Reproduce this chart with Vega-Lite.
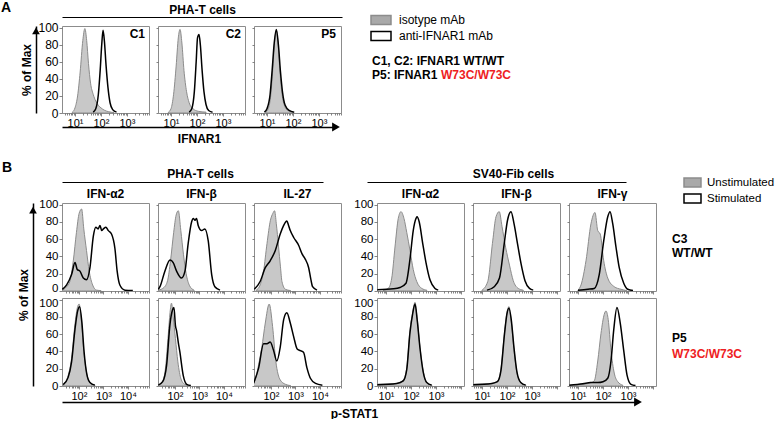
{
"$schema":"https://vega.github.io/schema/vega-lite/v6.json",
"padding":0,
"background":"white",
"columns":9,
"spacing":{"row":7,"column":9},
"bounds":"flush",
"align":"each",
"resolve":{"scale":{"fill":"independent","stroke":"independent"}},
"datasets":{
"blank":[{}],
"h":[
{"p":"A1","s":"isotype mAb","x":7.94,"y":1},{"p":"A1","s":"isotype mAb","x":10,"y":6},{"p":"A1","s":"isotype mAb","x":12.6,"y":20},{"p":"A1","s":"isotype mAb","x":15.8,"y":48},{"p":"A1","s":"isotype mAb","x":20,"y":85},{"p":"A1","s":"isotype mAb","x":24,"y":99},{"p":"A1","s":"isotype mAb","x":28.2,"y":85},{"p":"A1","s":"isotype mAb","x":33.1,"y":58},{"p":"A1","s":"isotype mAb","x":39.8,"y":35},{"p":"A1","s":"isotype mAb","x":50.1,"y":22},{"p":"A1","s":"isotype mAb","x":63.1,"y":14},{"p":"A1","s":"isotype mAb","x":79.4,"y":9},{"p":"A1","s":"isotype mAb","x":100,"y":6},{"p":"A1","s":"isotype mAb","x":141,"y":3},{"p":"A1","s":"isotype mAb","x":200,"y":1.5},{"p":"A1","s":"isotype mAb","x":316,"y":0.5},
{"p":"A1","s":"anti-IFNAR1 mAb","x":50.1,"y":1},{"p":"A1","s":"anti-IFNAR1 mAb","x":63.1,"y":5},{"p":"A1","s":"anti-IFNAR1 mAb","x":79.4,"y":22},{"p":"A1","s":"anti-IFNAR1 mAb","x":93.3,"y":50},{"p":"A1","s":"anti-IFNAR1 mAb","x":107,"y":80},{"p":"A1","s":"anti-IFNAR1 mAb","x":120,"y":97},{"p":"A1","s":"anti-IFNAR1 mAb","x":135,"y":85},{"p":"A1","s":"anti-IFNAR1 mAb","x":158,"y":55},{"p":"A1","s":"anti-IFNAR1 mAb","x":186,"y":30},{"p":"A1","s":"anti-IFNAR1 mAb","x":224,"y":12},{"p":"A1","s":"anti-IFNAR1 mAb","x":282,"y":4},{"p":"A1","s":"anti-IFNAR1 mAb","x":398,"y":1},
{"p":"A2","s":"isotype mAb","x":7.94,"y":1},{"p":"A2","s":"isotype mAb","x":10,"y":5},{"p":"A2","s":"isotype mAb","x":12.6,"y":22},{"p":"A2","s":"isotype mAb","x":15.8,"y":55},{"p":"A2","s":"isotype mAb","x":19.1,"y":88},{"p":"A2","s":"isotype mAb","x":22.3,"y":98},{"p":"A2","s":"isotype mAb","x":26.3,"y":82},{"p":"A2","s":"isotype mAb","x":31.6,"y":50},{"p":"A2","s":"isotype mAb","x":39.8,"y":25},{"p":"A2","s":"isotype mAb","x":50.1,"y":12},{"p":"A2","s":"isotype mAb","x":70.7,"y":5},{"p":"A2","s":"isotype mAb","x":112,"y":2},{"p":"A2","s":"isotype mAb","x":223,"y":1},
{"p":"A2","s":"anti-IFNAR1 mAb","x":50.1,"y":1},{"p":"A2","s":"anti-IFNAR1 mAb","x":63.1,"y":5},{"p":"A2","s":"anti-IFNAR1 mAb","x":79.3,"y":25},{"p":"A2","s":"anti-IFNAR1 mAb","x":93.3,"y":60},{"p":"A2","s":"anti-IFNAR1 mAb","x":105,"y":88},{"p":"A2","s":"anti-IFNAR1 mAb","x":120,"y":92},{"p":"A2","s":"anti-IFNAR1 mAb","x":135,"y":80},{"p":"A2","s":"anti-IFNAR1 mAb","x":158,"y":50},{"p":"A2","s":"anti-IFNAR1 mAb","x":186,"y":25},{"p":"A2","s":"anti-IFNAR1 mAb","x":223,"y":10},{"p":"A2","s":"anti-IFNAR1 mAb","x":282,"y":3},{"p":"A2","s":"anti-IFNAR1 mAb","x":398,"y":1},
{"p":"A3","s":"isotype mAb","x":8.91,"y":1},{"p":"A3","s":"isotype mAb","x":11.2,"y":5},{"p":"A3","s":"isotype mAb","x":14.1,"y":22},{"p":"A3","s":"isotype mAb","x":16.6,"y":50},{"p":"A3","s":"isotype mAb","x":19.5,"y":82},{"p":"A3","s":"isotype mAb","x":22.9,"y":97},{"p":"A3","s":"isotype mAb","x":26.9,"y":80},{"p":"A3","s":"isotype mAb","x":31.6,"y":48},{"p":"A3","s":"isotype mAb","x":38,"y":22},{"p":"A3","s":"isotype mAb","x":47.9,"y":8},{"p":"A3","s":"isotype mAb","x":63.1,"y":3},{"p":"A3","s":"isotype mAb","x":100,"y":1},
{"p":"A3","s":"anti-IFNAR1 mAb","x":7.94,"y":1},{"p":"A3","s":"anti-IFNAR1 mAb","x":10,"y":5},{"p":"A3","s":"anti-IFNAR1 mAb","x":13.2,"y":22},{"p":"A3","s":"anti-IFNAR1 mAb","x":15.8,"y":50},{"p":"A3","s":"anti-IFNAR1 mAb","x":19.1,"y":83},{"p":"A3","s":"anti-IFNAR1 mAb","x":22.9,"y":98},{"p":"A3","s":"anti-IFNAR1 mAb","x":27.5,"y":80},{"p":"A3","s":"anti-IFNAR1 mAb","x":33.1,"y":48},{"p":"A3","s":"anti-IFNAR1 mAb","x":39.8,"y":24},{"p":"A3","s":"anti-IFNAR1 mAb","x":50.1,"y":9},{"p":"A3","s":"anti-IFNAR1 mAb","x":70.8,"y":3},{"p":"A3","s":"anti-IFNAR1 mAb","x":112,"y":1},
{"p":"B11","s":"Unstimulated","x":21,"y":1},{"p":"B11","s":"Unstimulated","x":31.6,"y":5},{"p":"B11","s":"Unstimulated","x":42.7,"y":11},{"p":"B11","s":"Unstimulated","x":58.9,"y":35},{"p":"B11","s":"Unstimulated","x":79.4,"y":68},{"p":"B11","s":"Unstimulated","x":102,"y":90},{"p":"B11","s":"Unstimulated","x":129,"y":95},{"p":"B11","s":"Unstimulated","x":158,"y":72},{"p":"B11","s":"Unstimulated","x":204,"y":47},{"p":"B11","s":"Unstimulated","x":263,"y":23},{"p":"B11","s":"Unstimulated","x":363,"y":7},{"p":"B11","s":"Unstimulated","x":525,"y":1},{"p":"B11","s":"Unstimulated","x":794,"y":0.5},
{"p":"B11","s":"Stimulated","x":21,"y":2},{"p":"B11","s":"Stimulated","x":31.6,"y":7},{"p":"B11","s":"Stimulated","x":50.1,"y":19},{"p":"B11","s":"Stimulated","x":69.2,"y":33},{"p":"B11","s":"Stimulated","x":85.1,"y":25},{"p":"B11","s":"Stimulated","x":110,"y":23},{"p":"B11","s":"Stimulated","x":151,"y":15},{"p":"B11","s":"Stimulated","x":204,"y":13},{"p":"B11","s":"Stimulated","x":282,"y":27},{"p":"B11","s":"Stimulated","x":389,"y":64},{"p":"B11","s":"Stimulated","x":490,"y":74},{"p":"B11","s":"Stimulated","x":603,"y":72},{"p":"B11","s":"Stimulated","x":724,"y":76},{"p":"B11","s":"Stimulated","x":851,"y":70},{"p":"B11","s":"Stimulated","x":1000,"y":72},{"p":"B11","s":"Stimulated","x":1259,"y":74},{"p":"B11","s":"Stimulated","x":1585,"y":70},{"p":"B11","s":"Stimulated","x":2138,"y":66},{"p":"B11","s":"Stimulated","x":2951,"y":49},{"p":"B11","s":"Stimulated","x":3631,"y":23},{"p":"B11","s":"Stimulated","x":4677,"y":7},{"p":"B11","s":"Stimulated","x":7586,"y":1},{"p":"B11","s":"Stimulated","x":15849,"y":0.5},
{"p":"B12","s":"Unstimulated","x":21,"y":1},{"p":"B12","s":"Unstimulated","x":35.5,"y":4},{"p":"B12","s":"Unstimulated","x":50.1,"y":12},{"p":"B12","s":"Unstimulated","x":66.1,"y":35},{"p":"B12","s":"Unstimulated","x":89.1,"y":68},{"p":"B12","s":"Unstimulated","x":112,"y":88},{"p":"B12","s":"Unstimulated","x":138,"y":93},{"p":"B12","s":"Unstimulated","x":174,"y":70},{"p":"B12","s":"Unstimulated","x":224,"y":42},{"p":"B12","s":"Unstimulated","x":288,"y":20},{"p":"B12","s":"Unstimulated","x":398,"y":6},{"p":"B12","s":"Unstimulated","x":603,"y":1},
{"p":"B12","s":"Stimulated","x":21,"y":2},{"p":"B12","s":"Stimulated","x":24.5,"y":5},{"p":"B12","s":"Stimulated","x":38.9,"y":23},{"p":"B12","s":"Stimulated","x":63.1,"y":36},{"p":"B12","s":"Stimulated","x":85.1,"y":33},{"p":"B12","s":"Stimulated","x":117,"y":23},{"p":"B12","s":"Stimulated","x":186,"y":15},{"p":"B12","s":"Stimulated","x":257,"y":23},{"p":"B12","s":"Stimulated","x":347,"y":55},{"p":"B12","s":"Stimulated","x":479,"y":80},{"p":"B12","s":"Stimulated","x":562,"y":84},{"p":"B12","s":"Stimulated","x":661,"y":82},{"p":"B12","s":"Stimulated","x":759,"y":84},{"p":"B12","s":"Stimulated","x":891,"y":76},{"p":"B12","s":"Stimulated","x":1230,"y":70},{"p":"B12","s":"Stimulated","x":1660,"y":72},{"p":"B12","s":"Stimulated","x":2291,"y":58},{"p":"B12","s":"Stimulated","x":3162,"y":19},{"p":"B12","s":"Stimulated","x":4266,"y":5},{"p":"B12","s":"Stimulated","x":6918,"y":1},
{"p":"B13","s":"Unstimulated","x":25.1,"y":1},{"p":"B13","s":"Unstimulated","x":36.3,"y":7},{"p":"B13","s":"Unstimulated","x":50.1,"y":23},{"p":"B13","s":"Unstimulated","x":69.2,"y":55},{"p":"B13","s":"Unstimulated","x":95.5,"y":82},{"p":"B13","s":"Unstimulated","x":120,"y":90},{"p":"B13","s":"Unstimulated","x":141,"y":93},{"p":"B13","s":"Unstimulated","x":166,"y":78},{"p":"B13","s":"Unstimulated","x":204,"y":52},{"p":"B13","s":"Unstimulated","x":245,"y":28},{"p":"B13","s":"Unstimulated","x":282,"y":11},{"p":"B13","s":"Unstimulated","x":389,"y":2},{"p":"B13","s":"Unstimulated","x":631,"y":0.5},
{"p":"B13","s":"Stimulated","x":21,"y":2},{"p":"B13","s":"Stimulated","x":36.3,"y":11},{"p":"B13","s":"Stimulated","x":58.9,"y":27},{"p":"B13","s":"Stimulated","x":93.3,"y":35},{"p":"B13","s":"Stimulated","x":151,"y":47},{"p":"B13","s":"Stimulated","x":240,"y":66},{"p":"B13","s":"Stimulated","x":331,"y":76},{"p":"B13","s":"Stimulated","x":398,"y":80},{"p":"B13","s":"Stimulated","x":447,"y":81},{"p":"B13","s":"Stimulated","x":525,"y":76},{"p":"B13","s":"Stimulated","x":617,"y":70},{"p":"B13","s":"Stimulated","x":851,"y":62},{"p":"B13","s":"Stimulated","x":1349,"y":53},{"p":"B13","s":"Stimulated","x":1862,"y":43},{"p":"B13","s":"Stimulated","x":2512,"y":37},{"p":"B13","s":"Stimulated","x":3467,"y":27},{"p":"B13","s":"Stimulated","x":4169,"y":15},{"p":"B13","s":"Stimulated","x":5012,"y":5},{"p":"B13","s":"Stimulated","x":7586,"y":1},
{"p":"B14","s":"Unstimulated","x":7.94,"y":1},{"p":"B14","s":"Unstimulated","x":12.3,"y":3},{"p":"B14","s":"Unstimulated","x":17,"y":15},{"p":"B14","s":"Unstimulated","x":22.9,"y":51},{"p":"B14","s":"Unstimulated","x":30.9,"y":84},{"p":"B14","s":"Unstimulated","x":39.8,"y":92},{"p":"B14","s":"Unstimulated","x":52.5,"y":84},{"p":"B14","s":"Unstimulated","x":67.6,"y":68},{"p":"B14","s":"Unstimulated","x":91.2,"y":47},{"p":"B14","s":"Unstimulated","x":123,"y":25},{"p":"B14","s":"Unstimulated","x":170,"y":11},{"p":"B14","s":"Unstimulated","x":269,"y":3},{"p":"B14","s":"Unstimulated","x":427,"y":1},
{"p":"B14","s":"Stimulated","x":4.5,"y":1.5},{"p":"B14","s":"Stimulated","x":20,"y":2.5},{"p":"B14","s":"Stimulated","x":36.3,"y":4},{"p":"B14","s":"Stimulated","x":63.1,"y":9},{"p":"B14","s":"Stimulated","x":91.2,"y":37},{"p":"B14","s":"Stimulated","x":123,"y":70},{"p":"B14","s":"Stimulated","x":158,"y":84},{"p":"B14","s":"Stimulated","x":174,"y":86},{"p":"B14","s":"Stimulated","x":214,"y":80},{"p":"B14","s":"Stimulated","x":295,"y":55},{"p":"B14","s":"Stimulated","x":398,"y":33},{"p":"B14","s":"Stimulated","x":575,"y":13},{"p":"B14","s":"Stimulated","x":912,"y":3},{"p":"B14","s":"Stimulated","x":1230,"y":1},
{"p":"B15","s":"Unstimulated","x":10,"y":1},{"p":"B15","s":"Unstimulated","x":17,"y":11},{"p":"B15","s":"Unstimulated","x":26.9,"y":58},{"p":"B15","s":"Unstimulated","x":36.3,"y":86},{"p":"B15","s":"Unstimulated","x":49,"y":92},{"p":"B15","s":"Unstimulated","x":63.1,"y":75},{"p":"B15","s":"Unstimulated","x":89.1,"y":50},{"p":"B15","s":"Unstimulated","x":126,"y":30},{"p":"B15","s":"Unstimulated","x":178,"y":12},{"p":"B15","s":"Unstimulated","x":282,"y":3},{"p":"B15","s":"Unstimulated","x":447,"y":1},
{"p":"B15","s":"Stimulated","x":15.8,"y":1},{"p":"B15","s":"Stimulated","x":30.9,"y":5},{"p":"B15","s":"Stimulated","x":50.1,"y":15},{"p":"B15","s":"Stimulated","x":77.6,"y":55},{"p":"B15","s":"Stimulated","x":105,"y":82},{"p":"B15","s":"Stimulated","x":145,"y":92},{"p":"B15","s":"Stimulated","x":191,"y":78},{"p":"B15","s":"Stimulated","x":263,"y":55},{"p":"B15","s":"Stimulated","x":363,"y":32},{"p":"B15","s":"Stimulated","x":525,"y":12},{"p":"B15","s":"Stimulated","x":794,"y":3},{"p":"B15","s":"Stimulated","x":1122,"y":1},
{"p":"B16","s":"Unstimulated","x":10,"y":1},{"p":"B16","s":"Unstimulated","x":13.2,"y":7},{"p":"B16","s":"Unstimulated","x":20.9,"y":35},{"p":"B16","s":"Unstimulated","x":33.1,"y":78},{"p":"B16","s":"Unstimulated","x":47.9,"y":91},{"p":"B16","s":"Unstimulated","x":61.7,"y":70},{"p":"B16","s":"Unstimulated","x":77.6,"y":66},{"p":"B16","s":"Unstimulated","x":107,"y":35},{"p":"B16","s":"Unstimulated","x":155,"y":15},{"p":"B16","s":"Unstimulated","x":282,"y":5},{"p":"B16","s":"Unstimulated","x":525,"y":2},{"p":"B16","s":"Unstimulated","x":891,"y":0.5},
{"p":"B16","s":"Stimulated","x":10,"y":1},{"p":"B16","s":"Stimulated","x":25.1,"y":2},{"p":"B16","s":"Stimulated","x":44.7,"y":3},{"p":"B16","s":"Stimulated","x":70.8,"y":19},{"p":"B16","s":"Stimulated","x":107,"y":58},{"p":"B16","s":"Stimulated","x":155,"y":86},{"p":"B16","s":"Stimulated","x":191,"y":92},{"p":"B16","s":"Stimulated","x":245,"y":78},{"p":"B16","s":"Stimulated","x":331,"y":51},{"p":"B16","s":"Stimulated","x":447,"y":27},{"p":"B16","s":"Stimulated","x":676,"y":9},{"p":"B16","s":"Stimulated","x":977,"y":2},{"p":"B16","s":"Stimulated","x":1585,"y":0.5},
{"p":"B21","s":"Unstimulated","x":22.9,"y":2},{"p":"B21","s":"Unstimulated","x":36.3,"y":12},{"p":"B21","s":"Unstimulated","x":50.1,"y":32},{"p":"B21","s":"Unstimulated","x":69.2,"y":72},{"p":"B21","s":"Unstimulated","x":85.1,"y":90},{"p":"B21","s":"Unstimulated","x":102,"y":95},{"p":"B21","s":"Unstimulated","x":129,"y":72},{"p":"B21","s":"Unstimulated","x":158,"y":40},{"p":"B21","s":"Unstimulated","x":204,"y":16},{"p":"B21","s":"Unstimulated","x":282,"y":4},{"p":"B21","s":"Unstimulated","x":447,"y":1},
{"p":"B21","s":"Stimulated","x":22.9,"y":1.5},{"p":"B21","s":"Stimulated","x":36.3,"y":10},{"p":"B21","s":"Stimulated","x":50.1,"y":28},{"p":"B21","s":"Stimulated","x":69.2,"y":66},{"p":"B21","s":"Stimulated","x":87.1,"y":86},{"p":"B21","s":"Stimulated","x":107,"y":92},{"p":"B21","s":"Stimulated","x":132,"y":74},{"p":"B21","s":"Stimulated","x":162,"y":40},{"p":"B21","s":"Stimulated","x":209,"y":14},{"p":"B21","s":"Stimulated","x":282,"y":4},{"p":"B21","s":"Stimulated","x":447,"y":1},
{"p":"B22","s":"Unstimulated","x":21,"y":1},{"p":"B22","s":"Unstimulated","x":31.6,"y":5},{"p":"B22","s":"Unstimulated","x":41.7,"y":22},{"p":"B22","s":"Unstimulated","x":53.7,"y":60},{"p":"B22","s":"Unstimulated","x":63.1,"y":85},{"p":"B22","s":"Unstimulated","x":72.4,"y":96},{"p":"B22","s":"Unstimulated","x":85.1,"y":80},{"p":"B22","s":"Unstimulated","x":105,"y":55},{"p":"B22","s":"Unstimulated","x":132,"y":28},{"p":"B22","s":"Unstimulated","x":178,"y":8},{"p":"B22","s":"Unstimulated","x":251,"y":2},{"p":"B22","s":"Unstimulated","x":398,"y":0.5},
{"p":"B22","s":"Stimulated","x":21,"y":1},{"p":"B22","s":"Stimulated","x":31.6,"y":5},{"p":"B22","s":"Stimulated","x":45.7,"y":24},{"p":"B22","s":"Stimulated","x":63.1,"y":72},{"p":"B22","s":"Stimulated","x":79.4,"y":88},{"p":"B22","s":"Stimulated","x":91.2,"y":91},{"p":"B22","s":"Stimulated","x":105,"y":70},{"p":"B22","s":"Stimulated","x":117,"y":64},{"p":"B22","s":"Stimulated","x":138,"y":50},{"p":"B22","s":"Stimulated","x":158,"y":40},{"p":"B22","s":"Stimulated","x":219,"y":12},{"p":"B22","s":"Stimulated","x":302,"y":2},{"p":"B22","s":"Stimulated","x":447,"y":0.5},
{"p":"B23","s":"Unstimulated","x":19.5,"y":3},{"p":"B23","s":"Unstimulated","x":22.9,"y":7},{"p":"B23","s":"Unstimulated","x":31.6,"y":25},{"p":"B23","s":"Unstimulated","x":42.7,"y":45},{"p":"B23","s":"Unstimulated","x":58.9,"y":73},{"p":"B23","s":"Unstimulated","x":85.1,"y":95},{"p":"B23","s":"Unstimulated","x":117,"y":69},{"p":"B23","s":"Unstimulated","x":158,"y":29},{"p":"B23","s":"Unstimulated","x":240,"y":7},{"p":"B23","s":"Unstimulated","x":389,"y":2},{"p":"B23","s":"Unstimulated","x":631,"y":0.5},
{"p":"B23","s":"Stimulated","x":19.5,"y":3},{"p":"B23","s":"Stimulated","x":31.6,"y":21},{"p":"B23","s":"Stimulated","x":50.1,"y":49},{"p":"B23","s":"Stimulated","x":69.2,"y":49},{"p":"B23","s":"Stimulated","x":93.3,"y":51},{"p":"B23","s":"Stimulated","x":129,"y":41},{"p":"B23","s":"Stimulated","x":174,"y":29},{"p":"B23","s":"Stimulated","x":240,"y":45},{"p":"B23","s":"Stimulated","x":331,"y":77},{"p":"B23","s":"Stimulated","x":447,"y":85},{"p":"B23","s":"Stimulated","x":617,"y":73},{"p":"B23","s":"Stimulated","x":851,"y":57},{"p":"B23","s":"Stimulated","x":1175,"y":43},{"p":"B23","s":"Stimulated","x":1585,"y":41},{"p":"B23","s":"Stimulated","x":2138,"y":39},{"p":"B23","s":"Stimulated","x":2951,"y":21},{"p":"B23","s":"Stimulated","x":4074,"y":9},{"p":"B23","s":"Stimulated","x":6607,"y":3},{"p":"B23","s":"Stimulated","x":12589,"y":1},
{"p":"B24","s":"Unstimulated","x":4.5,"y":2},{"p":"B24","s":"Unstimulated","x":26.9,"y":3},{"p":"B24","s":"Unstimulated","x":49,"y":7},{"p":"B24","s":"Unstimulated","x":67.6,"y":21},{"p":"B24","s":"Unstimulated","x":91.2,"y":65},{"p":"B24","s":"Unstimulated","x":117,"y":85},{"p":"B24","s":"Unstimulated","x":145,"y":97},{"p":"B24","s":"Unstimulated","x":178,"y":77},{"p":"B24","s":"Unstimulated","x":229,"y":45},{"p":"B24","s":"Unstimulated","x":309,"y":17},{"p":"B24","s":"Unstimulated","x":427,"y":4},{"p":"B24","s":"Unstimulated","x":676,"y":1},
{"p":"B24","s":"Stimulated","x":4.5,"y":1.5},{"p":"B24","s":"Stimulated","x":26.9,"y":3},{"p":"B24","s":"Stimulated","x":49,"y":6},{"p":"B24","s":"Stimulated","x":67.6,"y":19},{"p":"B24","s":"Stimulated","x":91.2,"y":62},{"p":"B24","s":"Stimulated","x":117,"y":84},{"p":"B24","s":"Stimulated","x":145,"y":95},{"p":"B24","s":"Stimulated","x":178,"y":76},{"p":"B24","s":"Stimulated","x":229,"y":44},{"p":"B24","s":"Stimulated","x":309,"y":16},{"p":"B24","s":"Stimulated","x":427,"y":4},{"p":"B24","s":"Stimulated","x":676,"y":1},
{"p":"B25","s":"Unstimulated","x":4.5,"y":2},{"p":"B25","s":"Unstimulated","x":25.1,"y":3},{"p":"B25","s":"Unstimulated","x":41.7,"y":6},{"p":"B25","s":"Unstimulated","x":57.5,"y":20},{"p":"B25","s":"Unstimulated","x":79.4,"y":62},{"p":"B25","s":"Unstimulated","x":100,"y":85},{"p":"B25","s":"Unstimulated","x":120,"y":92},{"p":"B25","s":"Unstimulated","x":148,"y":75},{"p":"B25","s":"Unstimulated","x":191,"y":42},{"p":"B25","s":"Unstimulated","x":251,"y":15},{"p":"B25","s":"Unstimulated","x":355,"y":4},{"p":"B25","s":"Unstimulated","x":562,"y":1},
{"p":"B25","s":"Stimulated","x":4.5,"y":1.5},{"p":"B25","s":"Stimulated","x":25.1,"y":3},{"p":"B25","s":"Stimulated","x":41.7,"y":5},{"p":"B25","s":"Stimulated","x":57.5,"y":18},{"p":"B25","s":"Stimulated","x":79.4,"y":60},{"p":"B25","s":"Stimulated","x":100,"y":84},{"p":"B25","s":"Stimulated","x":120,"y":90},{"p":"B25","s":"Stimulated","x":148,"y":77},{"p":"B25","s":"Stimulated","x":191,"y":44},{"p":"B25","s":"Stimulated","x":251,"y":16},{"p":"B25","s":"Stimulated","x":355,"y":4},{"p":"B25","s":"Stimulated","x":562,"y":1},
{"p":"B26","s":"Unstimulated","x":4.5,"y":1},{"p":"B26","s":"Unstimulated","x":15.8,"y":2},{"p":"B26","s":"Unstimulated","x":31.6,"y":3.5},{"p":"B26","s":"Unstimulated","x":44.7,"y":6},{"p":"B26","s":"Unstimulated","x":61.7,"y":29},{"p":"B26","s":"Unstimulated","x":83.2,"y":61},{"p":"B26","s":"Unstimulated","x":112,"y":83},{"p":"B26","s":"Unstimulated","x":132,"y":87},{"p":"B26","s":"Unstimulated","x":162,"y":77},{"p":"B26","s":"Unstimulated","x":209,"y":41},{"p":"B26","s":"Unstimulated","x":282,"y":15},{"p":"B26","s":"Unstimulated","x":389,"y":5},{"p":"B26","s":"Unstimulated","x":617,"y":1},
{"p":"B26","s":"Stimulated","x":4.5,"y":1},{"p":"B26","s":"Stimulated","x":15.8,"y":2.5},{"p":"B26","s":"Stimulated","x":31.6,"y":4},{"p":"B26","s":"Stimulated","x":63.1,"y":4},{"p":"B26","s":"Stimulated","x":100,"y":5},{"p":"B26","s":"Stimulated","x":155,"y":9},{"p":"B26","s":"Stimulated","x":209,"y":29},{"p":"B26","s":"Stimulated","x":269,"y":65},{"p":"B26","s":"Stimulated","x":363,"y":91},{"p":"B26","s":"Stimulated","x":490,"y":73},{"p":"B26","s":"Stimulated","x":676,"y":41},{"p":"B26","s":"Stimulated","x":912,"y":13},{"p":"B26","s":"Stimulated","x":1318,"y":2},{"p":"B26","s":"Stimulated","x":1995,"y":0.5}
]},
"concat":[
{"width":53,"height":19,"data":{"name":"blank"},"mark":{"type":"text","text":"A","fontSize":14,"fontWeight":"bold","align":"left","baseline":"alphabetic"},"encoding":{"x":{"value":1},"y":{"value":12}}},
{"width":87,"height":19,"data":{"values":[{"v":0}]},"mark":{"type":"point","opacity":0,"size":0},"encoding":{"x":{"field":"v","type":"quantitative","scale":{"domain":[0,1],"range":[0,280],"nice":false,"zero":false},"axis":{"orient":"bottom","offset":-2,"domain":true,"domainColor":"#000","domainWidth":1,"ticks":false,"labels":false,"grid":false,"title":"PHA-T cells","titleFontSize":12,"titleFontWeight":"bold","titleBaseline":"alphabetic","titleY":-4}}}},
{"data":{"name":"blank"},"mark":{"type":"point","opacity":0,"size":0},"width":1,"height":1},
{"data":{"name":"blank"},"mark":{"type":"point","opacity":0,"size":0},"width":1,"height":1},
{"data":{"name":"blank"},"mark":{"type":"point","opacity":0,"size":0},"width":1,"height":1},
{"data":{"name":"blank"},"mark":{"type":"point","opacity":0,"size":0},"width":1,"height":1},
{"data":{"name":"blank"},"mark":{"type":"point","opacity":0,"size":0},"width":1,"height":1},
{"data":{"name":"blank"},"mark":{"type":"point","opacity":0,"size":0},"width":1,"height":1},
{"data":{"name":"blank"},"mark":{"type":"point","opacity":0,"size":0},"width":1,"height":1},

{"width":53,"height":87,"data":{"values":[{"v":100}]},"mark":{"type":"point","shape":"triangle-up","filled":true,"color":"#000","size":60,"opacity":1},"encoding":{"x":{"value":36},"y":{"field":"v","type":"quantitative","scale":{"domain":[0,106],"nice":false},"axis":{"orient":"left","offset":-36,"domain":true,"domainColor":"#000","domainWidth":1.5,"ticks":false,"labels":false,"grid":false,"title":"% of Max","titleFontSize":12,"titleFontWeight":"bold","titlePadding":3}}}},
{"width":87,"height":87,"view":{"stroke":"#8c8c8c"},"data":{"name":"h"},"transform":[{"filter":"datum.p == 'A1'"}],"layer":[
{"transform":[{"filter":"datum.s == 'isotype mAb'"}],"mark":{"type":"area","interpolate":"monotone","fill":"#c8c8c8","stroke":"#8c8c8c","strokeWidth":1,"clip":true},"encoding":{"x":{"field":"x","type":"quantitative","scale":{"type":"log","domain":[3.16,7080],"nice":false},"axis":{"values":[4,5,6,7,8,9,10,20,30,40,50,60,70,80,90,100,200,300,400,500,600,700,800,900,1000,2000,3000,4000,5000,6000,7000],"tickCount":100,"labelExpr":"datum.value == 10 ? '10¹' : datum.value == 100 ? '10²' : datum.value == 1000 ? '10³' : ''","tickSize":{"condition":{"test":"datum.value == 10 || datum.value == 100 || datum.value == 1000","value":3},"value":2},"domain":false,"grid":false,"title":null,"labelFontSize":11,"labelPadding":1,"labelOverlap":false,"labelFlush":false,"tickColor":"#666","tickWidth":0.8}},"y":{"field":"y","type":"quantitative","scale":{"domain":[0,102],"nice":false},"axis":{"values":[0,20,40,60,80,100],"tickCount":20,"tickSize":3,"domain":false,"grid":false,"title":null,"labelFontSize":12,"labelPadding":1,"labelOverlap":false,"labelFlush":false,"tickColor":"#666","tickWidth":0.8}}}},
{"transform":[{"filter":"datum.s == 'anti-IFNAR1 mAb'"}],"mark":{"type":"line","interpolate":"monotone","color":"#000","strokeWidth":1.5,"clip":true},"encoding":{"x":{"field":"x","type":"quantitative"},"y":{"field":"y","type":"quantitative"}}},
{"data":{"name":"blank"},"mark":{"type":"text","text":"C1","align":"right","baseline":"alphabetic","fontSize":12,"fontWeight":"bold"},"encoding":{"x":{"value":83},"y":{"value":12}}}]},
{"width":87,"height":87,"view":{"stroke":"#8c8c8c"},"data":{"name":"h"},"transform":[{"filter":"datum.p == 'A2'"}],"layer":[
{"transform":[{"filter":"datum.s == 'isotype mAb'"}],"mark":{"type":"area","interpolate":"monotone","fill":"#c8c8c8","stroke":"#8c8c8c","strokeWidth":1,"clip":true},"encoding":{"x":{"field":"x","type":"quantitative","scale":{"type":"log","domain":[3.16,7080],"nice":false},"axis":{"values":[4,5,6,7,8,9,10,20,30,40,50,60,70,80,90,100,200,300,400,500,600,700,800,900,1000,2000,3000,4000,5000,6000,7000],"tickCount":100,"labelExpr":"datum.value == 10 ? '10¹' : datum.value == 100 ? '10²' : datum.value == 1000 ? '10³' : ''","tickSize":{"condition":{"test":"datum.value == 10 || datum.value == 100 || datum.value == 1000","value":3},"value":2},"domain":false,"grid":false,"title":null,"labelFontSize":11,"labelPadding":1,"labelOverlap":false,"labelFlush":false,"tickColor":"#666","tickWidth":0.8}},"y":{"field":"y","type":"quantitative","scale":{"domain":[0,102],"nice":false},"axis":{"values":[0,20,40,60,80,100],"tickCount":20,"labels":false,"tickSize":2,"domain":false,"grid":false,"title":null,"tickColor":"#666","tickWidth":0.8}}}},
{"transform":[{"filter":"datum.s == 'anti-IFNAR1 mAb'"}],"mark":{"type":"line","interpolate":"monotone","color":"#000","strokeWidth":1.5,"clip":true},"encoding":{"x":{"field":"x","type":"quantitative"},"y":{"field":"y","type":"quantitative"}}},
{"data":{"name":"blank"},"mark":{"type":"text","text":"C2","align":"right","baseline":"alphabetic","fontSize":12,"fontWeight":"bold"},"encoding":{"x":{"value":83},"y":{"value":12}}}]},
{"width":87,"height":87,"view":{"stroke":"#8c8c8c"},"data":{"name":"h"},"transform":[{"filter":"datum.p == 'A3'"}],"layer":[
{"transform":[{"filter":"datum.s == 'isotype mAb'"}],"mark":{"type":"area","interpolate":"monotone","fill":"#c8c8c8","stroke":"#8c8c8c","strokeWidth":1,"clip":true},"encoding":{"x":{"field":"x","type":"quantitative","scale":{"type":"log","domain":[3.16,7080],"nice":false},"axis":{"values":[4,5,6,7,8,9,10,20,30,40,50,60,70,80,90,100,200,300,400,500,600,700,800,900,1000,2000,3000,4000,5000,6000,7000],"tickCount":100,"labelExpr":"datum.value == 10 ? '10¹' : datum.value == 100 ? '10²' : datum.value == 1000 ? '10³' : ''","tickSize":{"condition":{"test":"datum.value == 10 || datum.value == 100 || datum.value == 1000","value":3},"value":2},"domain":false,"grid":false,"title":null,"labelFontSize":11,"labelPadding":1,"labelOverlap":false,"labelFlush":false,"tickColor":"#666","tickWidth":0.8}},"y":{"field":"y","type":"quantitative","scale":{"domain":[0,102],"nice":false},"axis":{"values":[0,20,40,60,80,100],"tickCount":20,"labels":false,"tickSize":2,"domain":false,"grid":false,"title":null,"tickColor":"#666","tickWidth":0.8}}}},
{"transform":[{"filter":"datum.s == 'anti-IFNAR1 mAb'"}],"mark":{"type":"line","interpolate":"monotone","color":"#000","strokeWidth":1.5,"clip":true},"encoding":{"x":{"field":"x","type":"quantitative"},"y":{"field":"y","type":"quantitative"}}},
{"data":{"name":"blank"},"mark":{"type":"text","text":"P5","align":"right","baseline":"alphabetic","fontSize":12,"fontWeight":"bold"},"encoding":{"x":{"value":82},"y":{"value":12}}},
{"mark":{"type":"point","opacity":0},"encoding":{"fill":{"field":"s","type":"nominal","scale":{"domain":["isotype mAb","anti-IFNAR1 mAb"],"range":["#a9a9a9","#ffffff"]},"legend":{"orient":"none","legendX":118.5,"legendY":-14.5,"title":null,"symbolType":"M-1.333,-0.6H1.333V0.6H-1.333Z","symbolSize":225,"symbolStrokeWidth":1.5,"symbolOpacity":1,"labelFontSize":12,"labelOffset":9.5,"rowPadding":0,"padding":0}},"stroke":{"field":"s","type":"nominal","scale":{"domain":["isotype mAb","anti-IFNAR1 mAb"],"range":["#8c8c8c","#000000"]},"legend":{"orient":"none","legendX":118.5,"legendY":-14.5,"title":null,"symbolType":"M-1.333,-0.6H1.333V0.6H-1.333Z","symbolSize":225,"symbolStrokeWidth":1.5,"symbolOpacity":1,"labelFontSize":12,"labelOffset":9.5,"rowPadding":0,"padding":0}}}}]},
{"width":18,"height":87,"data":{"name":"blank"},"layer":[
{"mark":{"type":"text","text":"C1, C2: IFNAR1 WT/WT","align":"left","baseline":"alphabetic","fontSize":12,"fontWeight":"bold","color":"#000"},"encoding":{"x":{"value":22},"y":{"value":39}}},
{"mark":{"type":"text","text":"P5: IFNAR1","align":"left","baseline":"alphabetic","fontSize":12,"fontWeight":"bold","color":"#000"},"encoding":{"x":{"value":22},"y":{"value":52.5}}},
{"mark":{"type":"text","text":"W73C/W73C","align":"left","baseline":"alphabetic","fontSize":12,"fontWeight":"bold","color":"#ee1d23"},"encoding":{"x":{"value":91},"y":{"value":52.5}}}]},
{"data":{"name":"blank"},"mark":{"type":"point","opacity":0,"size":0},"width":1,"height":1},
{"data":{"name":"blank"},"mark":{"type":"point","opacity":0,"size":0},"width":1,"height":1},
{"data":{"name":"blank"},"mark":{"type":"point","opacity":0,"size":0},"width":1,"height":1},
{"data":{"name":"blank"},"mark":{"type":"point","opacity":0,"size":0},"width":1,"height":1},

{"data":{"name":"blank"},"mark":{"type":"point","opacity":0,"size":0},"width":1,"height":1},
{"width":87,"height":7,"data":{"values":[{"v":1}]},"mark":{"type":"point","shape":"triangle-right","filled":true,"color":"#000","size":80,"opacity":1},"encoding":{"x":{"field":"v","type":"quantitative","scale":{"domain":[0,1],"range":[0,274],"nice":false,"zero":false},"axis":{"orient":"bottom","domain":true,"domainColor":"#000","domainWidth":1.5,"ticks":false,"labels":false,"grid":false,"title":"IFNAR1","titleFontSize":12,"titleFontWeight":"bold","titlePadding":6}},"y":{"value":"height"}}},
{"data":{"name":"blank"},"mark":{"type":"point","opacity":0,"size":0},"width":1,"height":1},
{"data":{"name":"blank"},"mark":{"type":"point","opacity":0,"size":0},"width":1,"height":1},
{"data":{"name":"blank"},"mark":{"type":"point","opacity":0,"size":0},"width":1,"height":1},
{"data":{"name":"blank"},"mark":{"type":"point","opacity":0,"size":0},"width":1,"height":1},
{"data":{"name":"blank"},"mark":{"type":"point","opacity":0,"size":0},"width":1,"height":1},
{"data":{"name":"blank"},"mark":{"type":"point","opacity":0,"size":0},"width":1,"height":1},
{"data":{"name":"blank"},"mark":{"type":"point","opacity":0,"size":0},"width":1,"height":1},

{"width":53,"height":62,"data":{"name":"blank"},"mark":{"type":"text","text":"B","fontSize":14,"fontWeight":"bold","align":"left","baseline":"alphabetic"},"encoding":{"x":{"value":2},"y":{"value":38}}},
{"width":87,"height":62,"data":{"values":[{"v":0}]},"mark":{"type":"point","opacity":0,"size":0},"encoding":{"x":{"field":"v","type":"quantitative","scale":{"domain":[0,1],"range":[0,261],"nice":false,"zero":false},"axis":{"orient":"bottom","offset":-14,"domain":true,"domainColor":"#000","domainWidth":1,"ticks":false,"labels":false,"grid":false,"title":"PHA-T cells","titleFontSize":12,"titleFontWeight":"bold","titleBaseline":"alphabetic","titleY":-5,"titleX":138}}}},
{"data":{"name":"blank"},"mark":{"type":"point","opacity":0,"size":0},"width":1,"height":1},
{"data":{"name":"blank"},"mark":{"type":"point","opacity":0,"size":0},"width":1,"height":1},
{"width":18,"height":62,"data":{"values":[{"v":0}]},"mark":{"type":"point","opacity":0,"size":0},"encoding":{"x":{"field":"v","type":"quantitative","scale":{"domain":[0,1],"range":[17,276],"nice":false,"zero":false},"axis":{"orient":"bottom","offset":-14,"domain":true,"domainColor":"#000","domainWidth":1,"ticks":false,"labels":false,"grid":false,"title":"SV40-Fib cells","titleFontSize":12,"titleFontWeight":"bold","titleBaseline":"alphabetic","titleY":-5,"titleX":163}}}},
{"data":{"name":"blank"},"mark":{"type":"point","opacity":0,"size":0},"width":1,"height":1},
{"data":{"name":"blank"},"mark":{"type":"point","opacity":0,"size":0},"width":1,"height":1},
{"data":{"name":"blank"},"mark":{"type":"point","opacity":0,"size":0},"width":1,"height":1},
{"data":{"name":"blank"},"mark":{"type":"point","opacity":0,"size":0},"width":1,"height":1},

{"width":53,"height":88,"data":{"values":[{"v":100}]},"mark":{"type":"point","shape":"triangle-up","filled":true,"color":"#000","size":60,"opacity":1},"encoding":{"x":{"value":33},"y":{"field":"v","type":"quantitative","scale":{"domain":[0,104],"range":[183,0],"nice":false},"axis":{"orient":"left","offset":-33,"domain":true,"domainColor":"#000","domainWidth":1.5,"ticks":false,"labels":false,"grid":false,"title":"% of Max","titleFontSize":12,"titleFontWeight":"bold","titlePadding":3}}}},
{"width":87,"height":88,"view":{"stroke":"#8c8c8c"},"data":{"name":"h"},"transform":[{"filter":"datum.p == 'B11'"}],"layer":[
{"transform":[{"filter":"datum.s == 'Unstimulated'"}],"mark":{"type":"area","interpolate":"monotone","fill":"#c8c8c8","stroke":"#8c8c8c","strokeWidth":1,"clip":true},"encoding":{"x":{"field":"x","type":"quantitative","scale":{"type":"log","domain":[20.4,72400],"nice":false},"axis":{"values":[30,40,50,60,70,80,90,100,200,300,400,500,600,700,800,900,1000,2000,3000,4000,5000,6000,7000,8000,9000,10000,20000,30000,40000,50000,60000,70000],"tickCount":100,"labels":false,"tickSize":{"condition":{"test":"datum.value == 100 || datum.value == 1000 || datum.value == 10000","value":3},"value":2},"domain":false,"grid":false,"title":null,"tickColor":"#666","tickWidth":0.8}},"y":{"field":"y","type":"quantitative","scale":{"domain":[0,102],"nice":false},"axis":{"values":[0,20,40,60,80,100],"tickCount":20,"tickSize":3,"labelOffset":{"condition":{"test":"datum.value == 0","value":-2.5},"value":0},"domain":false,"grid":false,"title":null,"labelFontSize":11.5,"labelPadding":1,"labelOverlap":false,"labelFlush":false,"tickColor":"#666","tickWidth":0.8}}}},
{"transform":[{"filter":"datum.s == 'Stimulated'"}],"mark":{"type":"line","interpolate":"monotone","color":"#000","strokeWidth":1.5,"clip":true},"encoding":{"x":{"field":"x","type":"quantitative"},"y":{"field":"y","type":"quantitative"}}},
{"data":{"name":"blank"},"mark":{"type":"text","text":"IFN-α2","align":"center","baseline":"alphabetic","fontSize":12,"fontWeight":"bold"},"encoding":{"x":{"value":43.5},"y":{"value":-5}}}]},
{"width":87,"height":88,"view":{"stroke":"#8c8c8c"},"data":{"name":"h"},"transform":[{"filter":"datum.p == 'B12'"}],"layer":[
{"transform":[{"filter":"datum.s == 'Unstimulated'"}],"mark":{"type":"area","interpolate":"monotone","fill":"#c8c8c8","stroke":"#8c8c8c","strokeWidth":1,"clip":true},"encoding":{"x":{"field":"x","type":"quantitative","scale":{"type":"log","domain":[20.4,72400],"nice":false},"axis":{"values":[30,40,50,60,70,80,90,100,200,300,400,500,600,700,800,900,1000,2000,3000,4000,5000,6000,7000,8000,9000,10000,20000,30000,40000,50000,60000,70000],"tickCount":100,"labels":false,"tickSize":{"condition":{"test":"datum.value == 100 || datum.value == 1000 || datum.value == 10000","value":3},"value":2},"domain":false,"grid":false,"title":null,"tickColor":"#666","tickWidth":0.8}},"y":{"field":"y","type":"quantitative","scale":{"domain":[0,102],"nice":false},"axis":{"values":[0,20,40,60,80,100],"tickCount":20,"labels":false,"tickSize":2,"domain":false,"grid":false,"title":null,"tickColor":"#666","tickWidth":0.8}}}},
{"transform":[{"filter":"datum.s == 'Stimulated'"}],"mark":{"type":"line","interpolate":"monotone","color":"#000","strokeWidth":1.5,"clip":true},"encoding":{"x":{"field":"x","type":"quantitative"},"y":{"field":"y","type":"quantitative"}}},
{"data":{"name":"blank"},"mark":{"type":"text","text":"IFN-β","align":"center","baseline":"alphabetic","fontSize":12,"fontWeight":"bold"},"encoding":{"x":{"value":43.5},"y":{"value":-5}}}]},
{"width":87,"height":88,"view":{"stroke":"#8c8c8c"},"data":{"name":"h"},"transform":[{"filter":"datum.p == 'B13'"}],"layer":[
{"transform":[{"filter":"datum.s == 'Unstimulated'"}],"mark":{"type":"area","interpolate":"monotone","fill":"#c8c8c8","stroke":"#8c8c8c","strokeWidth":1,"clip":true},"encoding":{"x":{"field":"x","type":"quantitative","scale":{"type":"log","domain":[20.4,72400],"nice":false},"axis":{"values":[30,40,50,60,70,80,90,100,200,300,400,500,600,700,800,900,1000,2000,3000,4000,5000,6000,7000,8000,9000,10000,20000,30000,40000,50000,60000,70000],"tickCount":100,"labels":false,"tickSize":{"condition":{"test":"datum.value == 100 || datum.value == 1000 || datum.value == 10000","value":3},"value":2},"domain":false,"grid":false,"title":null,"tickColor":"#666","tickWidth":0.8}},"y":{"field":"y","type":"quantitative","scale":{"domain":[0,102],"nice":false},"axis":{"values":[0,20,40,60,80,100],"tickCount":20,"labels":false,"tickSize":2,"domain":false,"grid":false,"title":null,"tickColor":"#666","tickWidth":0.8}}}},
{"transform":[{"filter":"datum.s == 'Stimulated'"}],"mark":{"type":"line","interpolate":"monotone","color":"#000","strokeWidth":1.5,"clip":true},"encoding":{"x":{"field":"x","type":"quantitative"},"y":{"field":"y","type":"quantitative"}}},
{"data":{"name":"blank"},"mark":{"type":"text","text":"IL-27","align":"center","baseline":"alphabetic","fontSize":12,"fontWeight":"bold"},"encoding":{"x":{"value":43.5},"y":{"value":-5}}}]},
{"data":{"name":"blank"},"mark":{"type":"point","opacity":0,"size":0},"width":1,"height":1},
{"width":87,"height":88,"view":{"stroke":"#8c8c8c"},"data":{"name":"h"},"transform":[{"filter":"datum.p == 'B14'"}],"layer":[
{"transform":[{"filter":"datum.s == 'Unstimulated'"}],"mark":{"type":"area","interpolate":"monotone","fill":"#c8c8c8","stroke":"#8c8c8c","strokeWidth":1,"clip":true},"encoding":{"x":{"field":"x","type":"quantitative","scale":{"type":"log","domain":[4.37,13200],"nice":false},"axis":{"values":[5,6,7,8,9,10,20,30,40,50,60,70,80,90,100,200,300,400,500,600,700,800,900,1000,2000,3000,4000,5000,6000,7000,8000,9000,10000],"tickCount":100,"labels":false,"tickSize":{"condition":{"test":"datum.value == 10 || datum.value == 100 || datum.value == 1000 || datum.value == 10000","value":3},"value":2},"domain":false,"grid":false,"title":null,"tickColor":"#666","tickWidth":0.8}},"y":{"field":"y","type":"quantitative","scale":{"domain":[0,102],"nice":false},"axis":{"values":[0,20,40,60,80,100],"tickCount":20,"tickSize":3,"labelOffset":{"condition":{"test":"datum.value == 0","value":-2.5},"value":0},"domain":false,"grid":false,"title":null,"labelFontSize":11.5,"labelPadding":1,"labelOverlap":false,"labelFlush":false,"tickColor":"#666","tickWidth":0.8}}}},
{"transform":[{"filter":"datum.s == 'Stimulated'"}],"mark":{"type":"line","interpolate":"monotone","color":"#000","strokeWidth":1.5,"clip":true},"encoding":{"x":{"field":"x","type":"quantitative"},"y":{"field":"y","type":"quantitative"}}},
{"data":{"name":"blank"},"mark":{"type":"text","text":"IFN-α2","align":"center","baseline":"alphabetic","fontSize":12,"fontWeight":"bold"},"encoding":{"x":{"value":43.5},"y":{"value":-5}}}]},
{"width":87,"height":88,"view":{"stroke":"#8c8c8c"},"data":{"name":"h"},"transform":[{"filter":"datum.p == 'B15'"}],"layer":[
{"transform":[{"filter":"datum.s == 'Unstimulated'"}],"mark":{"type":"area","interpolate":"monotone","fill":"#c8c8c8","stroke":"#8c8c8c","strokeWidth":1,"clip":true},"encoding":{"x":{"field":"x","type":"quantitative","scale":{"type":"log","domain":[4.37,13200],"nice":false},"axis":{"values":[5,6,7,8,9,10,20,30,40,50,60,70,80,90,100,200,300,400,500,600,700,800,900,1000,2000,3000,4000,5000,6000,7000,8000,9000,10000],"tickCount":100,"labels":false,"tickSize":{"condition":{"test":"datum.value == 10 || datum.value == 100 || datum.value == 1000 || datum.value == 10000","value":3},"value":2},"domain":false,"grid":false,"title":null,"tickColor":"#666","tickWidth":0.8}},"y":{"field":"y","type":"quantitative","scale":{"domain":[0,102],"nice":false},"axis":{"values":[0,20,40,60,80,100],"tickCount":20,"labels":false,"tickSize":2,"domain":false,"grid":false,"title":null,"tickColor":"#666","tickWidth":0.8}}}},
{"transform":[{"filter":"datum.s == 'Stimulated'"}],"mark":{"type":"line","interpolate":"monotone","color":"#000","strokeWidth":1.5,"clip":true},"encoding":{"x":{"field":"x","type":"quantitative"},"y":{"field":"y","type":"quantitative"}}},
{"data":{"name":"blank"},"mark":{"type":"text","text":"IFN-β","align":"center","baseline":"alphabetic","fontSize":12,"fontWeight":"bold"},"encoding":{"x":{"value":43.5},"y":{"value":-5}}}]},
{"width":87,"height":88,"view":{"stroke":"#8c8c8c"},"data":{"name":"h"},"transform":[{"filter":"datum.p == 'B16'"}],"layer":[
{"transform":[{"filter":"datum.s == 'Unstimulated'"}],"mark":{"type":"area","interpolate":"monotone","fill":"#c8c8c8","stroke":"#8c8c8c","strokeWidth":1,"clip":true},"encoding":{"x":{"field":"x","type":"quantitative","scale":{"type":"log","domain":[4.37,13200],"nice":false},"axis":{"values":[5,6,7,8,9,10,20,30,40,50,60,70,80,90,100,200,300,400,500,600,700,800,900,1000,2000,3000,4000,5000,6000,7000,8000,9000,10000],"tickCount":100,"labels":false,"tickSize":{"condition":{"test":"datum.value == 10 || datum.value == 100 || datum.value == 1000 || datum.value == 10000","value":3},"value":2},"domain":false,"grid":false,"title":null,"tickColor":"#666","tickWidth":0.8}},"y":{"field":"y","type":"quantitative","scale":{"domain":[0,102],"nice":false},"axis":{"values":[0,20,40,60,80,100],"tickCount":20,"labels":false,"tickSize":2,"domain":false,"grid":false,"title":null,"tickColor":"#666","tickWidth":0.8}}}},
{"transform":[{"filter":"datum.s == 'Stimulated'"}],"mark":{"type":"line","interpolate":"monotone","color":"#000","strokeWidth":1.5,"clip":true},"encoding":{"x":{"field":"x","type":"quantitative"},"y":{"field":"y","type":"quantitative"}}},
{"data":{"name":"blank"},"mark":{"type":"text","text":"IFN-γ","align":"center","baseline":"alphabetic","fontSize":12,"fontWeight":"bold"},"encoding":{"x":{"value":43.5},"y":{"value":-5}}}]},
{"width":111,"height":88,"layer":[
{"data":{"name":"blank"},"mark":{"type":"text","text":"C3","align":"left","baseline":"alphabetic","fontSize":12,"fontWeight":"bold","color":"#000"},"encoding":{"x":{"value":7},"y":{"value":40}}},
{"data":{"name":"blank"},"mark":{"type":"text","text":"WT/WT","align":"left","baseline":"alphabetic","fontSize":12,"fontWeight":"bold","color":"#000"},"encoding":{"x":{"value":7},"y":{"value":54}}},
{"data":{"name":"h"},"transform":[{"filter":"datum.p == 'B16'"}],"mark":{"type":"point","opacity":0},"encoding":{"fill":{"field":"s","type":"nominal","scale":{"domain":["Unstimulated","Stimulated"],"range":["#a9a9a9","#ffffff"]},"legend":{"orient":"none","legendX":19,"legendY":-29,"title":null,"symbolType":"M-1.133,-0.6H1.133V0.6H-1.133Z","symbolSize":225,"symbolStrokeWidth":1.5,"symbolOpacity":1,"labelFontSize":11.5,"labelOffset":6,"rowPadding":0,"padding":0}},"stroke":{"field":"s","type":"nominal","scale":{"domain":["Unstimulated","Stimulated"],"range":["#8c8c8c","#000000"]},"legend":{"orient":"none","legendX":19,"legendY":-29,"title":null,"symbolType":"M-1.133,-0.6H1.133V0.6H-1.133Z","symbolSize":225,"symbolStrokeWidth":1.5,"symbolOpacity":1,"labelFontSize":11.5,"labelOffset":6,"rowPadding":0,"padding":0}}}}]},

{"data":{"name":"blank"},"mark":{"type":"point","opacity":0,"size":0},"width":1,"height":1},
{"width":87,"height":88,"view":{"stroke":"#8c8c8c"},"data":{"name":"h"},"transform":[{"filter":"datum.p == 'B21'"}],"layer":[
{"transform":[{"filter":"datum.s == 'Unstimulated'"}],"mark":{"type":"area","interpolate":"monotone","fill":"#c8c8c8","stroke":"#8c8c8c","strokeWidth":1,"clip":true},"encoding":{"x":{"field":"x","type":"quantitative","scale":{"type":"log","domain":[20.4,72400],"nice":false},"axis":{"values":[30,40,50,60,70,80,90,100,200,300,400,500,600,700,800,900,1000,2000,3000,4000,5000,6000,7000,8000,9000,10000,20000,30000,40000,50000,60000,70000],"tickCount":100,"labelExpr":"datum.value == 100 ? '10²' : datum.value == 1000 ? '10³' : datum.value == 10000 ? '10⁴' : ''","tickSize":{"condition":{"test":"datum.value == 100 || datum.value == 1000 || datum.value == 10000","value":3},"value":2},"domain":false,"grid":false,"title":null,"labelFontSize":11,"labelPadding":1,"labelOverlap":false,"labelFlush":false,"tickColor":"#666","tickWidth":0.8}},"y":{"field":"y","type":"quantitative","scale":{"domain":[0,102],"nice":false},"axis":{"values":[0,20,40,60,80,100],"tickCount":20,"tickSize":3,"labelOffset":{"condition":{"test":"datum.value == 100","value":3.5},"value":0},"domain":false,"grid":false,"title":null,"labelFontSize":11.5,"labelPadding":1,"labelOverlap":false,"labelFlush":false,"tickColor":"#666","tickWidth":0.8}}}},
{"transform":[{"filter":"datum.s == 'Stimulated'"}],"mark":{"type":"line","interpolate":"monotone","color":"#000","strokeWidth":1.5,"clip":true},"encoding":{"x":{"field":"x","type":"quantitative"},"y":{"field":"y","type":"quantitative"}}}]},
{"width":87,"height":88,"view":{"stroke":"#8c8c8c"},"data":{"name":"h"},"transform":[{"filter":"datum.p == 'B22'"}],"layer":[
{"transform":[{"filter":"datum.s == 'Unstimulated'"}],"mark":{"type":"area","interpolate":"monotone","fill":"#c8c8c8","stroke":"#8c8c8c","strokeWidth":1,"clip":true},"encoding":{"x":{"field":"x","type":"quantitative","scale":{"type":"log","domain":[20.4,72400],"nice":false},"axis":{"values":[30,40,50,60,70,80,90,100,200,300,400,500,600,700,800,900,1000,2000,3000,4000,5000,6000,7000,8000,9000,10000,20000,30000,40000,50000,60000,70000],"tickCount":100,"labelExpr":"datum.value == 100 ? '10²' : datum.value == 1000 ? '10³' : datum.value == 10000 ? '10⁴' : ''","tickSize":{"condition":{"test":"datum.value == 100 || datum.value == 1000 || datum.value == 10000","value":3},"value":2},"domain":false,"grid":false,"title":null,"labelFontSize":11,"labelPadding":1,"labelOverlap":false,"labelFlush":false,"tickColor":"#666","tickWidth":0.8}},"y":{"field":"y","type":"quantitative","scale":{"domain":[0,102],"nice":false},"axis":{"values":[0,20,40,60,80,100],"tickCount":20,"labels":false,"tickSize":2,"domain":false,"grid":false,"title":null,"tickColor":"#666","tickWidth":0.8}}}},
{"transform":[{"filter":"datum.s == 'Stimulated'"}],"mark":{"type":"line","interpolate":"monotone","color":"#000","strokeWidth":1.5,"clip":true},"encoding":{"x":{"field":"x","type":"quantitative"},"y":{"field":"y","type":"quantitative"}}}]},
{"width":87,"height":88,"view":{"stroke":"#8c8c8c"},"data":{"name":"h"},"transform":[{"filter":"datum.p == 'B23'"}],"layer":[
{"transform":[{"filter":"datum.s == 'Unstimulated'"}],"mark":{"type":"area","interpolate":"monotone","fill":"#c8c8c8","stroke":"#8c8c8c","strokeWidth":1,"clip":true},"encoding":{"x":{"field":"x","type":"quantitative","scale":{"type":"log","domain":[20.4,72400],"nice":false},"axis":{"values":[30,40,50,60,70,80,90,100,200,300,400,500,600,700,800,900,1000,2000,3000,4000,5000,6000,7000,8000,9000,10000,20000,30000,40000,50000,60000,70000],"tickCount":100,"labelExpr":"datum.value == 100 ? '10²' : datum.value == 1000 ? '10³' : datum.value == 10000 ? '10⁴' : ''","tickSize":{"condition":{"test":"datum.value == 100 || datum.value == 1000 || datum.value == 10000","value":3},"value":2},"domain":false,"grid":false,"title":null,"labelFontSize":11,"labelPadding":1,"labelOverlap":false,"labelFlush":false,"tickColor":"#666","tickWidth":0.8}},"y":{"field":"y","type":"quantitative","scale":{"domain":[0,102],"nice":false},"axis":{"values":[0,20,40,60,80,100],"tickCount":20,"labels":false,"tickSize":2,"domain":false,"grid":false,"title":null,"tickColor":"#666","tickWidth":0.8}}}},
{"transform":[{"filter":"datum.s == 'Stimulated'"}],"mark":{"type":"line","interpolate":"monotone","color":"#000","strokeWidth":1.5,"clip":true},"encoding":{"x":{"field":"x","type":"quantitative"},"y":{"field":"y","type":"quantitative"}}}]},
{"data":{"name":"blank"},"mark":{"type":"point","opacity":0,"size":0},"width":1,"height":1},
{"width":87,"height":88,"view":{"stroke":"#8c8c8c"},"data":{"name":"h"},"transform":[{"filter":"datum.p == 'B24'"}],"layer":[
{"transform":[{"filter":"datum.s == 'Unstimulated'"}],"mark":{"type":"area","interpolate":"monotone","fill":"#c8c8c8","stroke":"#8c8c8c","strokeWidth":1,"clip":true},"encoding":{"x":{"field":"x","type":"quantitative","scale":{"type":"log","domain":[4.37,13200],"nice":false},"axis":{"values":[5,6,7,8,9,10,20,30,40,50,60,70,80,90,100,200,300,400,500,600,700,800,900,1000,2000,3000,4000,5000,6000,7000,8000,9000,10000],"tickCount":100,"labelExpr":"datum.value == 10 ? '10¹' : datum.value == 100 ? '10²' : datum.value == 1000 ? '10³' : ''","tickSize":{"condition":{"test":"datum.value == 10 || datum.value == 100 || datum.value == 1000 || datum.value == 10000","value":3},"value":2},"domain":false,"grid":false,"title":null,"labelFontSize":11,"labelPadding":1,"labelOverlap":false,"labelFlush":false,"tickColor":"#666","tickWidth":0.8}},"y":{"field":"y","type":"quantitative","scale":{"domain":[0,102],"nice":false},"axis":{"values":[0,20,40,60,80,100],"tickCount":20,"tickSize":3,"labelOffset":{"condition":{"test":"datum.value == 100","value":3.5},"value":0},"domain":false,"grid":false,"title":null,"labelFontSize":11.5,"labelPadding":1,"labelOverlap":false,"labelFlush":false,"tickColor":"#666","tickWidth":0.8}}}},
{"transform":[{"filter":"datum.s == 'Stimulated'"}],"mark":{"type":"line","interpolate":"monotone","color":"#000","strokeWidth":1.5,"clip":true},"encoding":{"x":{"field":"x","type":"quantitative"},"y":{"field":"y","type":"quantitative"}}}]},
{"width":87,"height":88,"view":{"stroke":"#8c8c8c"},"data":{"name":"h"},"transform":[{"filter":"datum.p == 'B25'"}],"layer":[
{"transform":[{"filter":"datum.s == 'Unstimulated'"}],"mark":{"type":"area","interpolate":"monotone","fill":"#c8c8c8","stroke":"#8c8c8c","strokeWidth":1,"clip":true},"encoding":{"x":{"field":"x","type":"quantitative","scale":{"type":"log","domain":[4.37,13200],"nice":false},"axis":{"values":[5,6,7,8,9,10,20,30,40,50,60,70,80,90,100,200,300,400,500,600,700,800,900,1000,2000,3000,4000,5000,6000,7000,8000,9000,10000],"tickCount":100,"labelExpr":"datum.value == 10 ? '10¹' : datum.value == 100 ? '10²' : datum.value == 1000 ? '10³' : ''","tickSize":{"condition":{"test":"datum.value == 10 || datum.value == 100 || datum.value == 1000 || datum.value == 10000","value":3},"value":2},"domain":false,"grid":false,"title":null,"labelFontSize":11,"labelPadding":1,"labelOverlap":false,"labelFlush":false,"tickColor":"#666","tickWidth":0.8}},"y":{"field":"y","type":"quantitative","scale":{"domain":[0,102],"nice":false},"axis":{"values":[0,20,40,60,80,100],"tickCount":20,"labels":false,"tickSize":2,"domain":false,"grid":false,"title":null,"tickColor":"#666","tickWidth":0.8}}}},
{"transform":[{"filter":"datum.s == 'Stimulated'"}],"mark":{"type":"line","interpolate":"monotone","color":"#000","strokeWidth":1.5,"clip":true},"encoding":{"x":{"field":"x","type":"quantitative"},"y":{"field":"y","type":"quantitative"}}}]},
{"width":87,"height":88,"view":{"stroke":"#8c8c8c"},"data":{"name":"h"},"transform":[{"filter":"datum.p == 'B26'"}],"layer":[
{"transform":[{"filter":"datum.s == 'Unstimulated'"}],"mark":{"type":"area","interpolate":"monotone","fill":"#c8c8c8","stroke":"#8c8c8c","strokeWidth":1,"clip":true},"encoding":{"x":{"field":"x","type":"quantitative","scale":{"type":"log","domain":[4.37,13200],"nice":false},"axis":{"values":[5,6,7,8,9,10,20,30,40,50,60,70,80,90,100,200,300,400,500,600,700,800,900,1000,2000,3000,4000,5000,6000,7000,8000,9000,10000],"tickCount":100,"labelExpr":"datum.value == 10 ? '10¹' : datum.value == 100 ? '10²' : datum.value == 1000 ? '10³' : ''","tickSize":{"condition":{"test":"datum.value == 10 || datum.value == 100 || datum.value == 1000 || datum.value == 10000","value":3},"value":2},"domain":false,"grid":false,"title":null,"labelFontSize":11,"labelPadding":1,"labelOverlap":false,"labelFlush":false,"tickColor":"#666","tickWidth":0.8}},"y":{"field":"y","type":"quantitative","scale":{"domain":[0,102],"nice":false},"axis":{"values":[0,20,40,60,80,100],"tickCount":20,"labels":false,"tickSize":2,"domain":false,"grid":false,"title":null,"tickColor":"#666","tickWidth":0.8}}}},
{"transform":[{"filter":"datum.s == 'Stimulated'"}],"mark":{"type":"line","interpolate":"monotone","color":"#000","strokeWidth":1.5,"clip":true},"encoding":{"x":{"field":"x","type":"quantitative"},"y":{"field":"y","type":"quantitative"}}}]},
{"width":111,"height":88,"data":{"name":"blank"},"layer":[
{"mark":{"type":"text","text":"P5","align":"left","baseline":"alphabetic","fontSize":12,"fontWeight":"bold","color":"#000"},"encoding":{"x":{"value":7},"y":{"value":44}}},
{"mark":{"type":"text","text":"W73C/W73C","align":"left","baseline":"alphabetic","fontSize":12,"fontWeight":"bold","color":"#ee1d23"},"encoding":{"x":{"value":7},"y":{"value":60}}}]},

{"data":{"name":"blank"},"mark":{"type":"point","opacity":0,"size":0},"width":1,"height":1},
{"width":87,"height":9,"data":{"values":[{"v":1}]},"mark":{"type":"point","shape":"triangle-right","filled":true,"color":"#000","size":80,"opacity":1},"encoding":{"x":{"field":"v","type":"quantitative","scale":{"domain":[0,1],"range":[0,576],"nice":false,"zero":false},"axis":{"orient":"bottom","domain":true,"domainColor":"#000","domainWidth":1.5,"ticks":false,"labels":false,"grid":false,"title":"p-STAT1","titleFontSize":12,"titleFontWeight":"bold","titlePadding":6,"titleX":292}},"y":{"value":"height"}}},
{"data":{"name":"blank"},"mark":{"type":"point","opacity":0,"size":0},"width":1,"height":1},
{"data":{"name":"blank"},"mark":{"type":"point","opacity":0,"size":0},"width":1,"height":1},
{"data":{"name":"blank"},"mark":{"type":"point","opacity":0,"size":0},"width":1,"height":1},
{"data":{"name":"blank"},"mark":{"type":"point","opacity":0,"size":0},"width":1,"height":1},
{"data":{"name":"blank"},"mark":{"type":"point","opacity":0,"size":0},"width":1,"height":1},
{"data":{"name":"blank"},"mark":{"type":"point","opacity":0,"size":0},"width":1,"height":1},
{"data":{"name":"blank"},"mark":{"type":"point","opacity":0,"size":0},"width":1,"height":1}
],
"config":{"font":"Liberation Sans","view":{"stroke":null},"axis":{"labelFont":"Liberation Sans","titleFont":"Liberation Sans","labelColor":"#000","titleColor":"#000"},"legend":{"labelFont":"Liberation Sans","labelColor":"#000"},"title":{"font":"Liberation Sans","color":"#000"},"text":{"font":"Liberation Sans"}}
}
